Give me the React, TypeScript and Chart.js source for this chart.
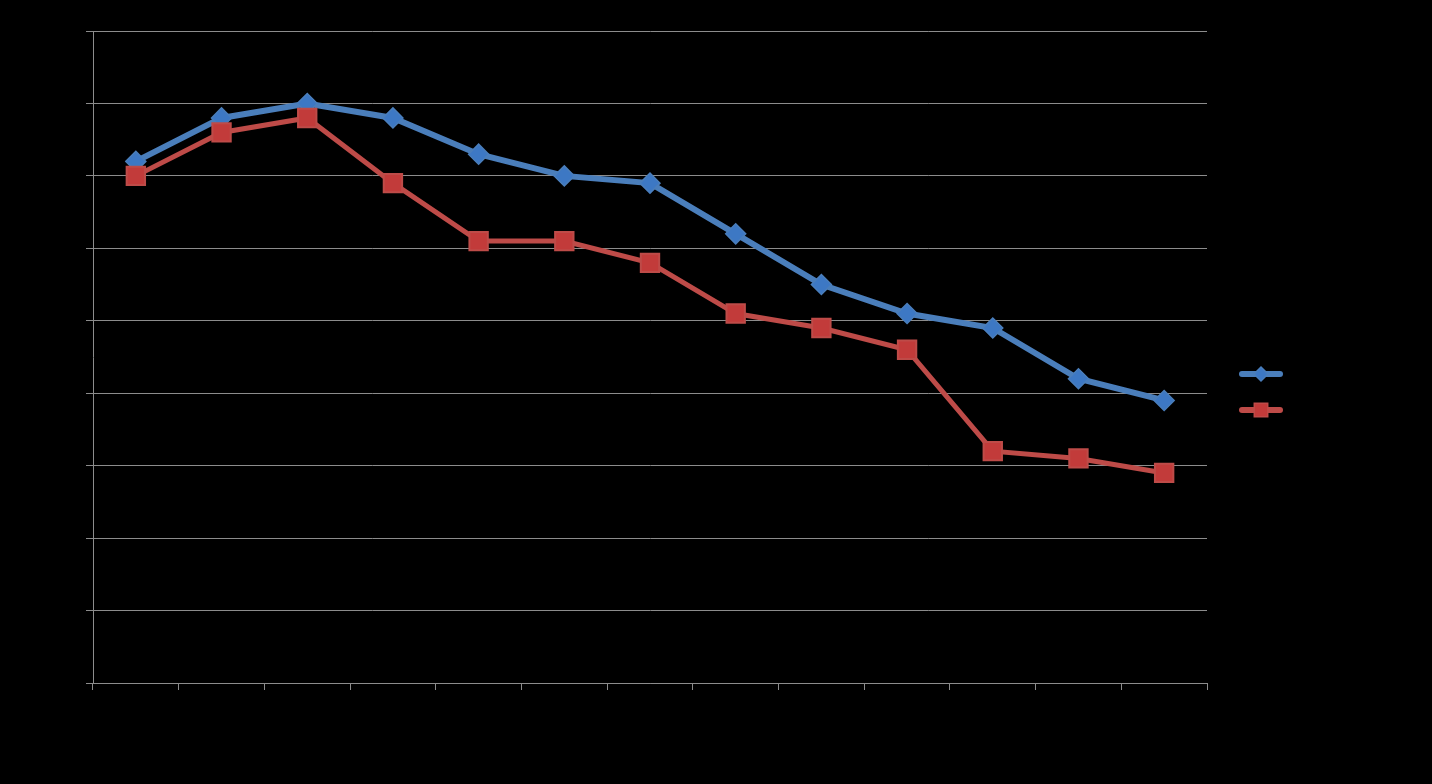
import React, { useEffect, useRef } from 'react';
import { Chart, registerables } from 'chart.js';

Chart.register(...registerables);

const categories = ['1', '2', '3', '4', '5', '6', '7', '8', '9', '10', '11', '12', '13'];
const seriesBlue = [72, 78, 80, 78, 73, 70, 69, 62, 55, 51, 49, 42, 39];
const seriesRed = [70, 76, 78, 69, 61, 61, 58, 51, 49, 46, 32, 31, 29];
const seriesNames = ['Series 1', 'Series 2'];
const yMin = 0;
const yMax = 90;
const yStep = 10;

const BLUE_LINE = '#4a7ebb';
const BLUE_FILL = '#3d78c4';
const RED_LINE = '#be4b48';
const RED_FILL = '#c23b3a';
const GRID = '#8c8c8c';

const legendPlugin = {
  id: 'customLegend',
  afterDraw(chart: any) {
    const ctx = chart.ctx;
    const area = chart.chartArea;
    const cx = area.right + 54;
    const midY = chart.height / 2;
    const items = [
      { y: midY - 18, line: BLUE_LINE, fill: BLUE_FILL, style: 'rectRot', r: 7 },
      { y: midY + 18, line: RED_LINE, fill: RED_FILL, style: 'rect', r: 9.5 },
    ];
    ctx.save();
    items.forEach((it) => {
      ctx.beginPath();
      ctx.strokeStyle = it.line;
      ctx.lineWidth = 6;
      ctx.lineCap = 'round';
      ctx.moveTo(cx - 19, it.y);
      ctx.lineTo(cx + 19, it.y);
      ctx.stroke();
      ctx.lineCap = 'butt';
      ctx.fillStyle = it.fill;
      ctx.strokeStyle = it.line;
      ctx.lineWidth = 1.5;
      ctx.beginPath();
      if (it.style === 'rectRot') {
        ctx.moveTo(cx, it.y - it.r);
        ctx.lineTo(cx + it.r, it.y);
        ctx.lineTo(cx, it.y + it.r);
        ctx.lineTo(cx - it.r, it.y);
        ctx.closePath();
      } else {
        const s = it.r * Math.SQRT1_2;
        ctx.rect(cx - s, it.y - s, 2 * s, 2 * s);
      }
      ctx.fill();
      ctx.stroke();
    });
    ctx.restore();
  },
};

const bgPlugin = {
  id: 'bg',
  beforeDraw(chart: any) {
    const ctx = chart.ctx;
    ctx.save();
    ctx.fillStyle = '#000000';
    ctx.fillRect(0, 0, chart.width, chart.height);
    ctx.restore();
  },
};

export default function App() {
  const ref = useRef<HTMLCanvasElement | null>(null);

  useEffect(() => {
    document.body.style.margin = '0';
    document.body.style.background = '#000';
    if (!ref.current) return;
    const chart = new Chart(ref.current, {
      type: 'line',
      data: {
        labels: categories,
        datasets: [
          {
            label: seriesNames[0],
            data: seriesBlue,
            borderColor: BLUE_LINE,
            borderWidth: 6,
            tension: 0,
            pointStyle: 'rectRot',
            pointRadius: 10,
            pointHoverRadius: 10,
            pointBackgroundColor: BLUE_FILL,
            pointBorderColor: BLUE_LINE,
            pointBorderWidth: 1.5,
            order: 2,
          },
          {
            label: seriesNames[1],
            data: seriesRed,
            borderColor: RED_LINE,
            borderWidth: 5,
            tension: 0,
            pointStyle: 'rect',
            pointRadius: 13,
            pointHoverRadius: 13,
            pointBackgroundColor: RED_FILL,
            pointBorderColor: RED_LINE,
            pointBorderWidth: 2,
            order: 1,
          },
        ],
      },
      options: {
        animation: false,
        responsive: true,
        maintainAspectRatio: false,
        layout: { padding: { left: 86, top: 31, right: 225, bottom: 94 } },
        plugins: {
          legend: { display: false },
          tooltip: { enabled: false },
        },
        scales: {
          x: {
            type: 'category',
            offset: true,
            ticks: { display: false },
            grid: {
              offset: true,
              drawOnChartArea: false,
              drawTicks: true,
              tickLength: 7,
              color: GRID,
              lineWidth: 1,
            },
            border: { display: true, color: GRID, width: 1 },
          },
          y: {
            min: yMin,
            max: yMax,
            ticks: { display: false, stepSize: yStep },
            grid: {
              drawOnChartArea: true,
              drawTicks: true,
              tickLength: 7,
              color: GRID,
              lineWidth: 1,
            },
            border: { display: true, color: GRID, width: 1 },
          },
        },
      },
      plugins: [bgPlugin, legendPlugin],
    });
    return () => chart.destroy();
  }, []);

  return (
    <div style={{ position: 'fixed', left: 0, top: 0, width: 1432, height: 784, background: '#000' }}>
      <canvas ref={ref} />
    </div>
  );
}
